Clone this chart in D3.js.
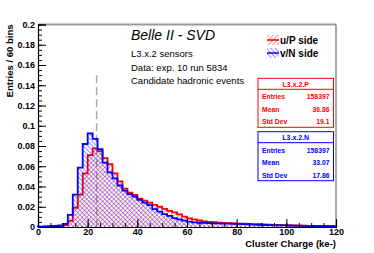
<!DOCTYPE html>
<html>
<head>
<meta charset="utf-8">
<script src="https://cdn.jsdelivr.net/npm/d3@7"></script>
<style>
  body { margin: 0; background: #fff; }
  text { font-family: "Liberation Sans", Arial, sans-serif; }
</style>
</head>
<body>
<svg id="svg-chart"></svg>
<script>
const width = 374;
const height = 253;
const margin = { left: 38, right: 38, top: 24.5, bottom: 26 };

// bin lower edges, 2 ke- wide, 0..118
const binEdges = d3.range(0, 120, 2);
const binWidth = 2;

// u/P side (red)
const valuesP = [0.0002, 0.0003, 0.0004, 0.0005, 0.0008, 0.002, 0.006, 0.019, 0.032, 0.053,
  0.071, 0.0777, 0.075, 0.068, 0.062, 0.053, 0.045, 0.038, 0.034, 0.0316,
  0.028, 0.026, 0.024, 0.0218, 0.02, 0.018, 0.016, 0.0145, 0.0125, 0.0102,
  0.0086, 0.0076, 0.0064, 0.0056, 0.005, 0.0047, 0.0043, 0.004, 0.0038, 0.0036,
  0.0034, 0.0032, 0.003, 0.0029, 0.0027, 0.0025, 0.0023, 0.0021, 0.002, 0.0018,
  0.0017, 0.0015, 0.0014, 0.0013, 0.0012, 0.0011, 0.001, 0.0009, 0.0008, 0.0008];

// v/N side (blue)
const valuesN = [0.0003, 0.0005, 0.0008, 0.001, 0.0015, 0.003, 0.012, 0.032, 0.0586, 0.082,
  0.0925, 0.087, 0.077, 0.0635, 0.054, 0.048, 0.041, 0.036, 0.0325, 0.03,
  0.0267, 0.024, 0.0216, 0.0176, 0.0152, 0.0128, 0.011, 0.0088, 0.0076, 0.0062,
  0.0053, 0.0046, 0.0042, 0.004, 0.0038, 0.0036, 0.0035, 0.0034, 0.0033, 0.0032,
  0.003, 0.0028, 0.0026, 0.0024, 0.0022, 0.002, 0.0019, 0.0018, 0.0017, 0.0016,
  0.0015, 0.0014, 0.0013, 0.0012, 0.0011, 0.001, 0.001, 0.0009, 0.0008, 0.0008];

const xTicks = [0, 20, 40, 60, 80, 100, 120];
const yTicks = [0, 0.02, 0.04, 0.06, 0.08, 0.1, 0.12, 0.14, 0.16, 0.18, 0.2];
const modeLine = 23.6;

const legendNames = ["u/P side", "v/N side"];
const statTitles = ["L3.x.2.P", "L3.x.2.N"];
const statLabels = ["Entries", "Mean", "Std Dev"];
const statValuesP = ["158397", "36.86", "19.1"];
const statValuesN = ["158397", "33.07", "17.86"];
const infoLines = ["L3.x.2 sensors", "Data: exp. 10 run 5834", "Candidate hadronic events"];

const red = "#ff0000";
const blue = "#0000ff";

const svg = d3.select("#svg-chart").attr("width", width).attr("height", height);

const xScale = d3.scaleLinear().domain([0, 120]).range([margin.left, width - margin.right]);
const yScale = d3.scaleLinear().domain([0, 0.2]).range([height - margin.bottom, margin.top]);

// hatch patterns
const defs = svg.append("defs");
function hatch(id, color, angle) {
  defs.append("pattern")
    .attr("id", id)
    .attr("patternUnits", "userSpaceOnUse")
    .attr("width", 3.2)
    .attr("height", 3.2)
    .attr("patternTransform", "rotate(" + angle + ")")
    .append("rect")
    .attr("width", 1)
    .attr("height", 3.2)
    .attr("fill", color)
    .attr("opacity", 0.45);
}
hatch("hatchP", red, 45);
hatch("hatchN", blue, -45);

// dashed marker line
svg.append("line")
  .attr("x1", xScale(modeLine)).attr("x2", xScale(modeLine))
  .attr("y1", yScale(0.15)).attr("y2", yScale(0))
  .attr("stroke", "#aaa")
  .attr("stroke-width", 1.5)
  .attr("stroke-dasharray", "8,4");

function histPoints(values) {
  const pts = [[0, 0]];
  values.forEach(function (v, i) {
    pts.push([binEdges[i], v]);
    pts.push([binEdges[i] + binWidth, v]);
  });
  pts.push([120, 0]);
  return pts;
}

const line = d3.line()
  .x(function (d) { return xScale(d[0]); })
  .y(function (d) { return yScale(d[1]); });

[[valuesP, "hatchP", red], [valuesN, "hatchN", blue]].forEach(function (h) {
  svg.append("path")
    .attr("d", line(histPoints(h[0])))
    .attr("fill", "url(#" + h[1] + ")")
    .attr("stroke", h[2])
    .attr("stroke-width", 1.8)
    .attr("stroke-linejoin", "miter");
});

// frame
svg.append("line")
  .attr("x1", xScale(0)).attr("x2", xScale(120))
  .attr("y1", yScale(0.2)).attr("y2", yScale(0.2))
  .attr("stroke", "#999").attr("stroke-width", 1.8);
svg.append("line")
  .attr("x1", xScale(120)).attr("x2", xScale(120))
  .attr("y1", yScale(0.2)).attr("y2", yScale(0))
  .attr("stroke", "#555").attr("stroke-width", 1);

// axes
const yMinor = d3.range(0, 0.2001, 0.005);
const xMinor = d3.range(0, 120.01, 5);

svg.append("g")
  .attr("transform", "translate(" + margin.left + ",0)")
  .call(d3.axisLeft(yScale).tickValues(yMinor).tickSize(-4).tickFormat(""))
  .call(function (g) { g.select(".domain").remove(); });

svg.append("g")
  .attr("transform", "translate(0," + (height - margin.bottom) + ")")
  .call(d3.axisBottom(xScale).tickValues(xMinor).tickSize(-4).tickFormat(""))
  .call(function (g) { g.select(".domain").remove(); });

svg.append("g")
  .attr("transform", "translate(" + margin.left + ",0)")
  .call(d3.axisLeft(yScale).tickValues(yTicks).tickSize(-8).tickPadding(3)
    .tickFormat(function (d) { return d === 0 ? "0" : String(+d.toFixed(2)); }))
  .call(function (g) {
    g.select(".domain").attr("stroke-width", 1.2);
    g.selectAll("text").attr("font-size", 9).attr("font-weight", "bold")
      .attr("font-family", "Liberation Sans, Arial, sans-serif").attr("fill", "#000");
  });

svg.append("g")
  .attr("transform", "translate(0," + (height - margin.bottom) + ")")
  .call(d3.axisBottom(xScale).tickValues(xTicks).tickSize(-8).tickPadding(2))
  .call(function (g) {
    g.select(".domain").attr("stroke-width", 1.2);
    g.selectAll("text").attr("font-size", 9).attr("font-weight", "bold")
      .attr("font-family", "Liberation Sans, Arial, sans-serif").attr("fill", "#000");
  });

// axis titles
svg.append("text")
  .attr("transform", "translate(13," + margin.top + ") rotate(-90)")
  .attr("text-anchor", "end")
  .attr("font-size", 9.5)
  .attr("font-weight", "bold")
  .text("Entries / 60 bins");

svg.append("text")
  .attr("x", xScale(120))
  .attr("y", 247)
  .attr("text-anchor", "end")
  .attr("font-size", 9.5)
  .attr("font-weight", "bold")
  .text("Cluster Charge (ke-)");

// labels
svg.append("text")
  .attr("x", 131).attr("y", 40)
  .attr("font-size", 14)
  .attr("font-style", "italic")
  .text("Belle II - SVD");

svg.selectAll(".info")
  .data(infoLines)
  .join("text")
  .attr("class", "info")
  .attr("x", 131)
  .attr("y", function (d, i) { return 57 + i * 13.7; })
  .attr("font-size", 9.5)
  .text(function (d) { return d; });

// legend
const legend = svg.append("g");
legendNames.forEach(function (name, i) {
  const y0 = 35 + i * 13;
  const c = i === 0 ? red : blue;
  legend.append("rect")
    .attr("x", 267).attr("y", y0).attr("width", 12).attr("height", 10)
    .attr("fill", "url(#" + (i === 0 ? "hatchP" : "hatchN") + ")");
  legend.append("line")
    .attr("x1", 267).attr("x2", 279).attr("y1", y0 + 5).attr("y2", y0 + 5)
    .attr("stroke", c).attr("stroke-width", 1.5);
  legend.append("text")
    .attr("x", 280).attr("y", y0 + 9)
    .attr("font-size", 10)
    .attr("font-weight", "bold")
    .text(name);
});

// stat boxes
function statBox(top, title, values, color) {
  const g = svg.append("g");
  const left = 258, right = 333.5, h = 49;
  g.append("rect")
    .attr("x", left).attr("y", top).attr("width", right - left).attr("height", h)
    .attr("fill", "#fff").attr("stroke", color).attr("stroke-width", 1);
  g.append("line")
    .attr("x1", left).attr("x2", right).attr("y1", top + 11).attr("y2", top + 11)
    .attr("stroke", color).attr("stroke-width", 1);
  g.append("text")
    .attr("x", (left + right) / 2).attr("y", top + 8.5)
    .attr("text-anchor", "middle")
    .attr("font-size", 7).attr("font-weight", "bold").attr("fill", color)
    .text(title);
  statLabels.forEach(function (lab, i) {
    const y = top + 20.9 + i * 12.6;
    g.append("text")
      .attr("x", left + 4).attr("y", y)
      .attr("font-size", 6.8).attr("font-weight", "bold").attr("fill", color)
      .text(lab);
    g.append("text")
      .attr("x", right - 4).attr("y", y)
      .attr("text-anchor", "end")
      .attr("font-size", 6.8).attr("font-weight", "bold").attr("fill", color)
      .text(values[i]);
  });
}
statBox(78.3, statTitles[0], statValuesP, red);
statBox(131.7, statTitles[1], statValuesN, blue);
</script>
</body>
</html>
